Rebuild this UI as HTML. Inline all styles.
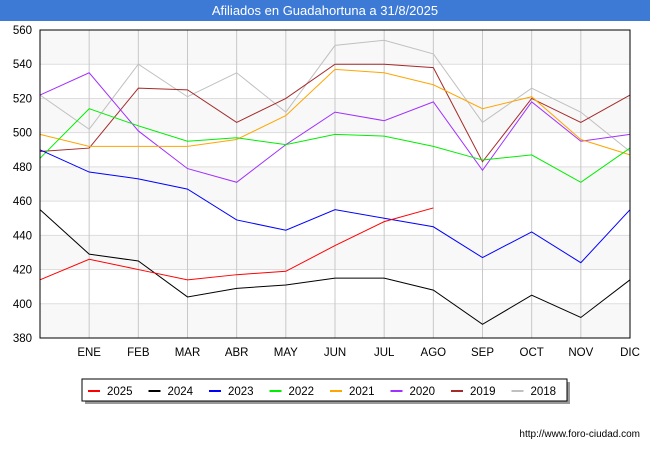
<!DOCTYPE html>
<html><head><meta charset="utf-8"><style>
body{margin:0;background:#fff;font-family:"Liberation Sans",sans-serif}
svg text{font-family:"Liberation Sans",sans-serif}
</style></head><body>
<svg width="650" height="450" id="c">
<rect x="0" y="0" width="650" height="21" fill="#3d7ad6"/>
<text x="325" y="15" text-anchor="middle" fill="#fff" font-size="13">Afiliados en Guadahortuna a 31/8/2025</text>
<g id="bands"></g><g id="grid"></g><g id="series"></g><g id="axes"></g>
<rect x="40" y="30" width="590" height="308" fill="none" stroke="#000" stroke-width="1"/>
<rect x="85" y="382" width="485" height="22" fill="#999"/>
<rect x="82" y="379" width="485" height="22" fill="#fff" stroke="#000"/>
<g id="legend"></g>
<text x="640" y="437" text-anchor="end" font-size="10" fill="#000">http://www.foro-ciudad.com</text>
</svg>
<script>
const months=["","ENE","FEB","MAR","ABR","MAY","JUN","JUL","AGO","SEP","OCT","NOV","DIC"];
const yTicks=[380,400,420,440,460,480,500,520,540,560];
const seriesNames=["2025","2024","2023","2022","2021","2020","2019","2018"];
const seriesColors=["#ff0000","#000000","#0000ff","#00ee00","#ffa500","#a030ff","#a52a2a","#c0c0c0"];
const s2025=[414,426,420,414,417,419,434,448,456];
const s2024=[455,429,425,404,409,411,415,415,408,388,405,392,414];
const s2023=[490,477,473,467,449,443,455,450,445,427,442,424,455];
const s2022=[485,514,504,495,497,493,499,498,492,484,487,471,491];
const s2021=[499,492,492,492,496,510,537,535,528,514,521,496,487];
const s2020=[522,535,501,479,471,493,512,507,518,478,518,495,499];
const s2019=[489,491,526,525,506,520,540,540,538,483,520,506,522];
const s2018=[522,502,540,521,535,512,551,554,546,506,526,512,489];
const allSeries=[s2025,s2024,s2023,s2022,s2021,s2020,s2019,s2018];
const NS="http://www.w3.org/2000/svg";
const x=i=>40+i*(590/12);
const y=v=>338-(v-380)*308/180;
function mk(t,a,p){const e=document.createElementNS(NS,t);for(const k in a)e.setAttribute(k,a[k]);document.getElementById(p).appendChild(e);return e;}
for(let k=0;k<yTicks.length-1;k++){
 const r=mk("rect",{x:40,y:y(yTicks[k+1]),width:590,height:y(yTicks[k])-y(yTicks[k+1]),fill:(k%2==0)?"#f8f8f8":"#fff"},"bands");
 
 
}
yTicks.forEach(v=>{
 const l=mk("line",{x1:40,x2:630,y1:y(v),y2:y(v),stroke:"#ddd"},"grid");
 
 
 const t=mk("text",{x:32,y:y(v)+4,"text-anchor":"end","font-size":"11.5",fill:"#000"},"axes");t.textContent=v;
 
 
});
months.forEach((m,i)=>{
 if(i>0&&i<12){const l=mk("line",{x1:x(i),x2:x(i),y1:30,y2:338,stroke:"#c8c8c8"},"grid");
 
 }
 if(m){const t=mk("text",{x:x(i),y:356,"text-anchor":"middle","font-size":"11.5",fill:"#000"},"axes");t.textContent=m;
 
 }
});
for(let s=allSeries.length-1;s>=0;s--){
 const pts=allSeries[s].map((v,i)=>x(i)+","+y(v)).join(" ");
 const p=mk("polyline",{points:pts,fill:"none",stroke:seriesColors[s],"stroke-width":1},"series");
 
 
}
seriesNames.forEach((n,i)=>{
 const lx=88+i*60.5;
 const l=mk("line",{x1:lx,x2:lx+12,y1:391,y2:391,stroke:seriesColors[i],"stroke-width":2},"legend");
 
 
 const t=mk("text",{x:lx+19,y:395,"font-size":"11.5",fill:"#000"},"legend");t.textContent=n;
 
 
});
</script>
</body></html>
